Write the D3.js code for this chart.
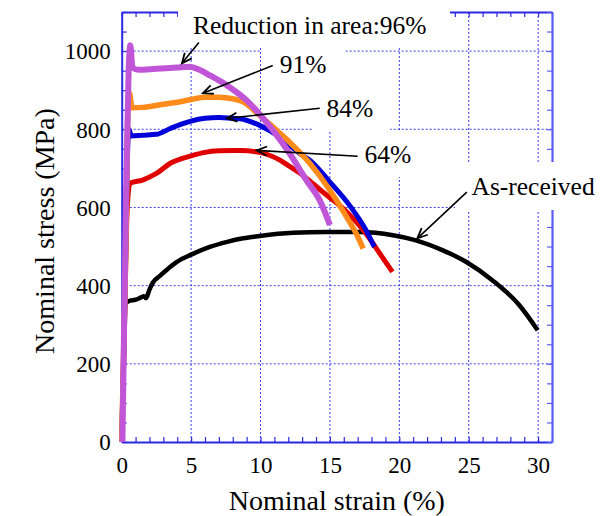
<!DOCTYPE html>
<html><head><meta charset="utf-8">
<script src="https://cdn.jsdelivr.net/npm/d3@7"></script>
<style>
html,body{margin:0;padding:0;background:#fff;}
svg{display:block;}
</style></head>
<body>
<svg id="chart" width="609" height="516"></svg>
<script>
// ---- data ----
const strainTicks = [0,5,10,15,20,25,30];
const stressTicks = [0,200,400,600,800,1000];

const asStrain = [0,0.1,0.2,0.26,0.5,1.0,1.4,1.6,1.75,2.0,2.25,2.75,3.3,3.95,5.05,6.35,7.6,8.75,9.95,12.35,14.73,17.14,19.54,21.2,23.1,24.8,26.7,28.65,29.97];
const asStress = [0,120,260,355,360,364,370,373,368,390,408,425,442,460,480,499,512,521,527,535,537,537,529,516,491,461,414,350,286];

const r64Strain = [0,0.2,0.4,0.6,1.5,2.5,3.5,5,6,7,8,8.5,9.95,11.4,12.1,12.83,13.55,14.27,15.0,15.7,16.4,17.1,17.6,18.6,19.5];
const r64Stress = [0,300,600,662,670,687,713,732,741,745,746,746,741,721,705,688,668,646,625,605,582,555,533,482,435];

const r84Strain = [0,0.3,0.45,0.52,0.7,1.5,2.5,3.5,4.3,5,6,7,8,8.5,9.95,11.4,12.83,13.55,15.0,16.4,17.6,18.2];
const r84Stress = [0,500,770,800,783,785,787,802,813,821,828,830,828,827,810,780,738,721,665,606,542,499];

const r91Strain = [0,0.3,0.45,0.55,0.75,1.5,3,4,5,6,7,8,8.75,9.95,11.4,12.1,13.55,15.0,16.2,16.9,17.4];
const r91Stress = [0,500,850,893,855,856,864,869,876,882,882,878,870,835,790,767,713,644,576,533,495];

const r96Strain = [0.05,0.3,0.5,0.62,0.78,1.2,2.5,4,4.9,5.6,6.35,7.1,7.8,9.0,10.0,10.9,12.1,13.3,14.27,15.0];
const r96Stress = [0,600,950,1015,958,952,955,958,960,952,938,923,907,874,836,797,738,670,618,555];

// ---- layout ----
const FONT = "'Liberation Serif', 'Times New Roman', Tinos, Times, serif";
const svg = d3.select("#chart");
const L = 121.7, R = 552, T = 12, B = 442;
const x = d3.scaleLinear().domain([0,31]).range([L,R]);
const y = d3.scaleLinear().domain([0,1100]).range([B,T]);
const blue = "#2a2ae0", gridc = "#3c3cf0";

// grid
const g = svg.append("g");
g.selectAll("line.vx").data(strainTicks.filter(d=>d>0)).join("line")
  .attr("x1",d=>x(d)).attr("x2",d=>x(d)).attr("y1",T).attr("y2",B)
  .attr("stroke",gridc).attr("stroke-width",1).attr("stroke-dasharray","2,2");
g.selectAll("line.hy").data(stressTicks.filter(d=>d>0)).join("line")
  .attr("y1",d=>y(d)).attr("y2",d=>y(d)).attr("x1",L).attr("x2",R)
  .attr("stroke",gridc).attr("stroke-width",1).attr("stroke-dasharray","2,2");

// axes with inward minor ticks
function styleAxis(sel,col,w){
  sel.select(".domain").attr("stroke",col).attr("stroke-width",w);
  sel.selectAll(".tick line").attr("stroke",col).attr("stroke-width",1.2);
}
const minorX = d3.range(0,32,1), minorY = d3.range(0,1101,50);
svg.append("g").attr("transform",`translate(0,${B})`)
  .call(d3.axisBottom(x).tickValues(minorX).tickSize(-5).tickSizeOuter(0).tickFormat(""))
  .call(s=>styleAxis(s,blue,2));
svg.append("g").attr("transform",`translate(0,${T})`)
  .call(d3.axisTop(x).tickValues(minorX).tickSize(-5).tickSizeOuter(0).tickFormat(""))
  .call(s=>styleAxis(s,blue,2));
svg.append("g").attr("transform",`translate(${L},0)`)
  .call(d3.axisLeft(y).tickValues(minorY).tickSize(-5).tickSizeOuter(0).tickFormat(""))
  .call(s=>styleAxis(s,blue,2));
svg.append("g").attr("transform",`translate(${R},0)`)
  .call(d3.axisRight(y).tickValues(minorY).tickSize(-5).tickSizeOuter(0).tickFormat(""))
  .call(s=>styleAxis(s,"#5a5af5",2.2));

// tick labels
svg.append("g").attr("transform",`translate(0,${B})`)
  .call(d3.axisBottom(x).tickValues(strainTicks).tickSize(0).tickPadding(0).tickFormat(d3.format("d")))
  .call(s=>{s.select(".domain").remove();
    s.selectAll("text").style("font-family",FONT).style("font-size","23px").attr("fill","#000").attr("dy",0).attr("y",31);});
svg.append("g").attr("transform",`translate(${L},0)`)
  .call(d3.axisLeft(y).tickValues(stressTicks).tickSize(0).tickPadding(0).tickFormat(d3.format("d")))
  .call(s=>{s.select(".domain").remove();
    s.selectAll("text").style("font-family",FONT).style("font-size","23px").attr("fill","#000").attr("x",-11).attr("dy","0.34em");});

// axis titles
svg.append("text").attr("x",(L+R)/2).attr("y",510).attr("text-anchor","middle")
  .style("font-family",FONT).style("font-size","28px").text("Nominal strain (%)");
svg.append("text").attr("transform",`translate(54,${(T+B)/2+4}) rotate(-90)`)
  .attr("text-anchor","middle").style("font-family",FONT).style("font-size","28px").text("Nominal stress (MPa)");

// label background boxes (hide grid behind labels)
const boxes = [[178,0,450,48],[262,48,345,90],[312,88,390,131],[350,130,420,177],[455,162,609,210]];
svg.append("g").selectAll("rect").data(boxes).join("rect")
  .attr("x",d=>d[0]).attr("y",d=>d[1]).attr("width",d=>d[2]-d[0]).attr("height",d=>d[3]-d[1])
  .attr("fill","#fff");

// curves
const line = d3.line().x(d=>x(d[0])).y(d=>y(d[1])).curve(d3.curveMonotoneX);
const series = [
  {sx:asStrain, sy:asStress, c:"#000000", w:4.5},
  {sx:r64Strain, sy:r64Stress, c:"#e00000", w:5},
  {sx:r84Strain, sy:r84Stress, c:"#0000d8", w:5},
  {sx:r91Strain, sy:r91Stress, c:"#ff8c1a", w:5.5},
  {sx:r96Strain, sy:r96Stress, c:"#c055d8", w:6}
];
svg.append("g").selectAll("path").data(series).join("path")
  .attr("d",s=>line(s.sx.map((v,i)=>[v,s.sy[i]])))
  .attr("fill","none").attr("stroke",s=>s.c).attr("stroke-width",s=>s.w)
  .attr("stroke-linejoin","round").attr("stroke-linecap","butt");

// annotations (data coordinates)
const labelText = ["Reduction in area:96%","91%","84%","64%","As-received"];
const labelPos = [[5.13,1043],[11.38,943],[14.76,830.6],[17.5,713],[25.2,631]];
const arrowFrom = [[5.56,1022],[10.88,963],[14.27,853.6],[17.0,731],[24.86,639]];
const arrowTo = [[4.34,968.6],[5.85,892],[7.58,828],[9.73,746],[21.3,521]];

const ann = svg.append("g");
ann.selectAll("text").data(labelText).join("text")
  .attr("x",(d,i)=>x(labelPos[i][0])).attr("y",(d,i)=>y(labelPos[i][1]))
  .style("font-family",FONT).style("font-size","25.5px").text(d=>d);
labelText.forEach((t,i)=>{
  const x1=x(arrowFrom[i][0]), y1=y(arrowFrom[i][1]), x2=x(arrowTo[i][0]), y2=y(arrowTo[i][1]);
  ann.append("line").attr("x1",x1).attr("y1",y1).attr("x2",x2).attr("y2",y2)
    .attr("stroke","#000").attr("stroke-width",1.6);
  const a=Math.atan2(y2-y1,x2-x1), len=11, sp=0.42;
  const p1=[x2-len*Math.cos(a-sp), y2-len*Math.sin(a-sp)];
  const p2=[x2-len*Math.cos(a+sp), y2-len*Math.sin(a+sp)];
  ann.append("path").attr("d",`M${p1[0]},${p1[1]}L${x2},${y2}L${p2[0]},${p2[1]}`)
    .attr("fill","none").attr("stroke","#000").attr("stroke-width",1.8);
});
</script>
</body></html>
